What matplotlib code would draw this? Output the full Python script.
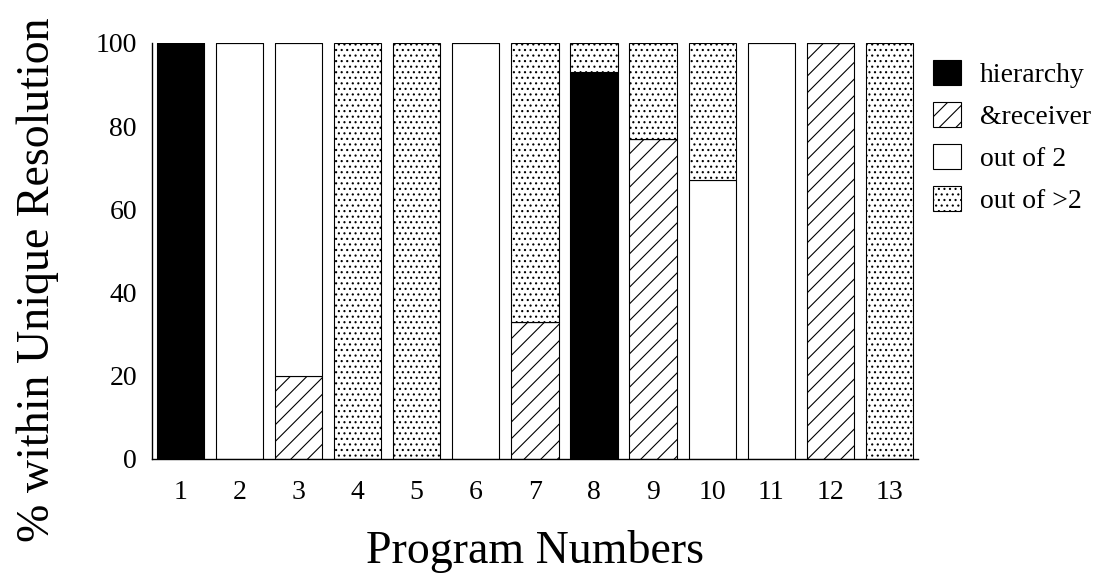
import matplotlib
matplotlib.use("Agg")
import matplotlib.pyplot as plt
import numpy as np

plt.rcParams['font.family'] = ['Liberation Serif', 'DejaVu Serif']
plt.rcParams['hatch.linewidth'] = 0.8

programs = ['1', '2', '3', '4', '5', '6', '7', '8', '9', '10', '11', '12', '13']
hierarchy = [100, 0, 0, 0, 0, 0, 0, 93, 0, 0, 0, 0, 0]
receiver = [0, 0, 20, 0, 0, 0, 33, 0, 77, 0, 0, 100, 0]
out_of_2 = [0, 100, 80, 0, 0, 100, 0, 0, 0, 67, 100, 0, 0]
out_of_gt2 = [0, 0, 0, 100, 100, 0, 67, 7, 23, 33, 0, 0, 100]

series = [
    ('hierarchy', hierarchy, dict(color='black', edgecolor='black')),
    ('&receiver', receiver, dict(color='white', edgecolor='black', hatch='//')),
    ('out of 2', out_of_2, dict(color='white', edgecolor='black')),
    ('out of >2', out_of_gt2, dict(color='white', edgecolor='black', hatch='...')),
]

fig = plt.figure(figsize=(10.95, 5.73), dpi=100)
ax = fig.add_axes([0.139, 0.199, 0.699, 0.726])

x = np.arange(1, len(programs) + 1)
bottom = np.zeros(len(programs))
handles = []
for name, vals, style in series:
    vals = np.array(vals, dtype=float)
    b = ax.bar(x, vals, 0.8, bottom=bottom, linewidth=0.8, label=name, **style)
    handles.append(b)
    bottom += vals

ax.set_xlim(0.525, 13.475)
ax.set_ylim(0, 100)
ax.set_xticks(x)
ax.set_xticklabels(programs)
ax.set_yticks([0, 20, 40, 60, 80, 100])
ax.tick_params(length=0, labelsize=20)
ax.tick_params(axis='x', pad=15)
ax.tick_params(axis='y', pad=11)
for s in ['top', 'right']:
    ax.spines[s].set_visible(False)
ax.spines['left'].set_linewidth(1)
ax.spines['bottom'].set_linewidth(1)

ax.set_ylabel('% within Unique Resolution', fontsize=33)
ax.yaxis.set_label_coords(-0.122, 0.43)
ax.set_xlabel('Program Numbers', fontsize=33)
ax.xaxis.set_label_coords(0.5, -0.17)

leg = fig.legend(handles=handles, loc='upper left', bbox_to_anchor=(0.852, 0.8945),
                 frameon=False, fontsize=20, handlelength=1.0, handleheight=1.0,
                 handletextpad=0.7, labelspacing=0.5, borderpad=0, borderaxespad=0)

fig.savefig('out.png', dpi=100)
